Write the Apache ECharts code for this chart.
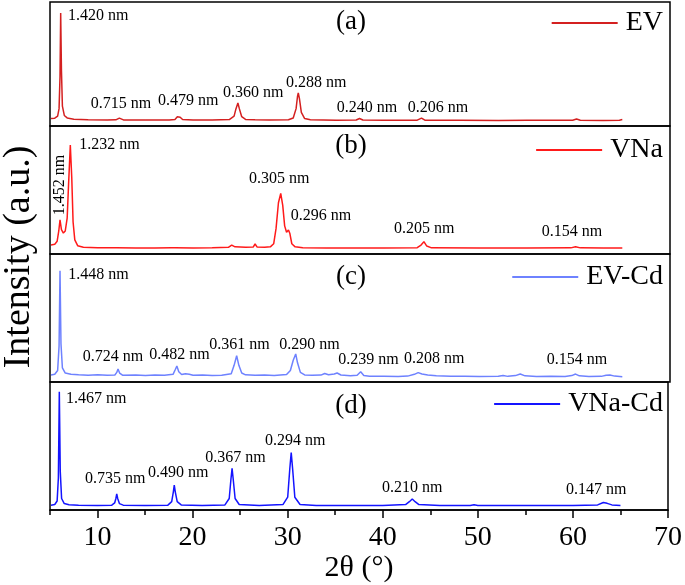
<!DOCTYPE html>
<html>
<head>
<meta charset="utf-8">
<script src="https://cdn.jsdelivr.net/npm/echarts@6/dist/echarts.min.js"></script>
<style>html,body{margin:0;padding:0;background:#fff}#c{width:685px;height:585px}</style>
</head>
<body>
<div id="c"></div>
<script>
// ---- data (2θ in degrees, intensity in panel units 0-100) ----
const seriesNames = ['EV', 'VNa', 'EV-Cd', 'VNa-Cd'];
const panelTags = ['(a)', '(b)', '(c)', '(d)'];
const majorTicks = [10, 20, 30, 40, 50, 60, 70];
const minorTicks = [5, 15, 25, 35, 45, 55, 65];

const evData = [
[5.1,6.0],[5.5,6.3],[5.8,8],[5.95,14],[6.05,40],[6.12,91.1],[6.2,45],[6.3,16],[6.5,8.5],[6.8,6.5],[7.5,5.5],[9,5.0],[11,4.9],[11.9,5.0],[12.1,5.6],[12.27,6.4],[12.45,5.4],[12.7,4.9],[15,4.8],[17.5,4.8],[18.1,5.3],[18.35,7.5],[18.5,8.8],[18.65,7.0],[18.9,5.2],[20,4.8],[22,4.8],[23.8,5.2],[24.3,8],[24.5,14],[24.7,18.5],[24.85,14],[25.1,7.5],[25.5,5.3],[26.5,5.0],[28,4.8],[30,5.0],[30.5,6.5],[30.8,14],[30.95,24],[31.03,26.6],[31.15,22],[31.35,11],[31.7,6],[32.3,5.0],[35,4.7],[37.1,4.8],[37.45,6.0],[37.8,4.8],[40,4.6],[43.5,4.7],[43.95,6.4],[44.3,4.7],[48,4.6],[52,4.5],[55,4.6],[59.8,4.6],[60.2,5.6],[60.6,4.6],[63,4.5],[64.7,4.6],[65,5.2]
];
const vnaData = [
[5.1,7.0],[5.5,7.6],[5.75,10],[5.92,18],[6.05,26.6],[6.2,19],[6.4,16.4],[6.6,18],[6.8,28],[6.95,55],[7.13,85.2],[7.28,60],[7.42,25],[7.6,11],[7.9,6.5],[8.5,5.2],[10,4.8],[12,4.9],[14,4.7],[16,4.7],[17.7,4.8],[17.9,5.6],[18.1,4.8],[20,4.7],[22,4.9],[23.7,5.2],[24.05,7.0],[24.4,5.6],[25.5,5.2],[26.3,5.4],[26.5,7.8],[26.7,5.5],[27.5,5.3],[28.1,5.6],[28.45,8],[28.7,20],[28.95,40],[29.19,47.4],[29.4,38],[29.6,22],[29.8,17],[30.0,18.8],[30.15,16],[30.35,8],[30.7,5.6],[31.5,4.9],[34,4.7],[37,4.7],[40,4.7],[43.5,4.9],[43.9,7],[44.2,9.6],[44.5,6.2],[45,4.8],[50,4.7],[55,4.7],[59.6,4.8],[60.1,5.7],[60.6,4.8],[63,4.7],[65,4.7]
];
const evcdData = [
[5.1,5.5],[5.5,6],[5.8,9],[5.95,28],[6.05,86.9],[6.15,30],[6.3,11],[6.6,7],[7.2,6],[8,5.6],[9,5.3],[10,5.6],[11,5.2],[11.8,5.5],[12.0,7.5],[12.13,10.2],[12.3,7],[12.6,5.3],[14,5.4],[15,5.1],[16,5.4],[17,5.2],[17.9,6],[18.15,10],[18.3,12.5],[18.5,8],[18.8,5.8],[19.2,6.5],[19.4,7.8],[19.6,6],[20,5.2],[21,5.4],[22,5.1],[23,5.3],[24.0,6.5],[24.3,13],[24.57,20.5],[24.8,13],[25.1,7],[25.5,5.6],[26.5,5.2],[27.5,5.4],[28.5,5.1],[29.8,5.8],[30.2,9],[30.5,17],[30.76,21.9],[30.95,15],[31.25,7.5],[31.7,5.5],[32.5,5.2],[33.4,5.4],[33.8,6.6],[34.2,5.6],[34.8,6.2],[35.1,7.0],[35.5,5.5],[36.5,4.8],[37.2,5.2],[37.57,8.0],[37.9,5],[38.5,4.4],[40,4.5],[41.5,4.3],[42.5,4.6],[43.2,6],[43.6,7.3],[44.0,6.2],[44.6,5.5],[45.5,4.8],[47,4.4],[48.5,4.5],[50,4.3],[52.0,4.5],[52.5,5.1],[53,4.4],[53.8,5],[54.3,6.2],[54.8,4.8],[56,4.3],[57.5,4.5],[59,4.3],[59.7,5],[60.1,6.2],[60.5,4.8],[61.5,4.3],[62.8,4.4],[63.3,5.2],[63.7,5.5],[64.2,4.6],[65,4.1]
];
const vnacdData = [
[5.1,3.8],[5.5,4.3],[5.75,7],[5.88,25],[5.98,92.4],[6.08,30],[6.22,9],[6.5,5],[7,4.1],[8,3.7],[10,3.5],[11.5,3.8],[11.8,5.5],[11.93,9],[12.02,12.5],[12.12,9],[12.3,5],[12.7,3.8],[15,3.5],[17.4,3.8],[17.8,6.5],[17.97,14],[18.07,19.5],[18.18,14],[18.38,6.5],[18.8,4],[21,3.5],[23.4,4],[23.85,9],[24.03,24],[24.15,32.6],[24.27,24],[24.47,9],[24.9,4.3],[27,3.5],[29.5,4.2],[30.0,10],[30.22,32],[30.37,44.8],[30.52,32],[30.75,10],[31.3,4.3],[33,3.6],[37,3.5],[40,3.5],[42.4,4.2],[42.8,6.5],[43.1,8.6],[43.4,6.5],[43.8,4.2],[46,3.5],[49.2,3.6],[49.6,4.1],[50,3.6],[55,3.5],[60,3.5],[62.6,4],[63.2,5.9],[63.6,5.2],[64.1,4],[65,3.6]
];

// peak annotations: [2θ, intensity, text]
const evLabels = [[6.89,88.7,'1.420 nm'],[9.27,17.7,'0.715 nm'],[16.32,20.4,'0.479 nm'],[23.14,26.4,'0.360 nm'],[29.74,34.9,'0.288 nm'],[35.06,14.3,'0.240 nm'],[42.50,14.3,'0.206 nm']];
const vnaLabels = [[8.07,85.1,'1.232 nm'],[25.86,59.1,'0.305 nm'],[30.24,29.7,'0.296 nm'],[41.07,19.3,'0.205 nm'],[56.55,17.4,'0.154 nm']];
const vnaVerticalLabels = [[6.05,53.9,'1.452 nm']];
const evcdLabels = [[6.92,83.6,'1.448 nm'],[8.43,19.3,'0.724 nm'],[15.41,21.6,'0.482 nm'],[21.70,28.9,'0.361 nm'],[29.04,28.9,'0.290 nm'],[35.23,17.7,'0.239 nm'],[42.11,18.5,'0.208 nm'],[57.07,17.2,'0.154 nm']];
const vnacdLabels = [[6.68,87.2,'1.467 nm'],[8.67,24.0,'0.735 nm'],[15.31,29.1,'0.490 nm'],[21.32,40.4,'0.367 nm'],[27.61,53.9,'0.294 nm'],[39.91,17.7,'0.210 nm'],[59.28,15.6,'0.147 nm']];

// ---- layout / style ----
const FONT = '"Liberation Serif", "Times New Roman", serif';
const colors = ['#d42020', '#ff1a1a', '#6e82ff', '#1414ff'];
const gridTops = [2, 126, 254, 382];
const gridHeights = [124, 128, 128, 128];
const legendCenters = [23, 150, 277, 404];
const tagCenters = [22, 146, 277, 406];
const allData = [evData, vnaData, evcdData, vnacdData];
const allLabels = [evLabels, vnaLabels, evcdLabels, vnacdLabels];

const grid = gridTops.map((t, i) => ({
  left: 50, right: 15, top: t, height: gridHeights[i],
  show: true, borderColor: '#000', borderWidth: 1.5, backgroundColor: 'transparent'
}));

const xAxis = gridTops.map((t, i) => {
  const last = i === 3;
  return {
    type: 'value', gridIndex: i, min: 5, max: 70,
    axisLine: { show: last, lineStyle: { color: '#000', width: 1.5 } },
    axisTick: { show: last, customValues: majorTicks, length: 8, lineStyle: { color: '#000', width: 1.5 } },
    axisLabel: { show: last, customValues: majorTicks, margin: 14, fontSize: 28, fontFamily: FONT, color: '#000' },
    splitLine: { show: false },
    name: last ? '2θ (°)' : '', nameLocation: 'middle', nameGap: 43,
    nameTextStyle: { fontSize: 30, fontFamily: FONT, color: '#000' }
  };
});
xAxis.push({
  type: 'value', gridIndex: 3, min: 5, max: 70, position: 'bottom',
  axisLine: { show: false },
  axisTick: { show: true, customValues: minorTicks, length: 5, lineStyle: { color: '#000', width: 1.5 } },
  axisLabel: { show: false }, splitLine: { show: false }
});

const yAxis = gridTops.map((t, i) => ({
  type: 'value', gridIndex: i, min: 0, max: 100, show: false
}));

const series = [];
allData.forEach((d, i) => {
  series.push({
    name: seriesNames[i], type: 'line', xAxisIndex: i, yAxisIndex: i,
    data: d, showSymbol: false, symbol: 'none', color: colors[i],
    lineStyle: { width: 1.5, color: colors[i] }, silent: true, z: 3
  });
  const lab = allLabels[i].map(l => ({ name: l[2], value: [l[0], l[1]] }));
  if (i === 1) {
    vnaVerticalLabels.forEach(l => lab.push({
      name: l[2], value: [l[0], l[1]],
      label: { rotate: 90, position: 'inside', align: 'center', verticalAlign: 'middle' }
    }));
  }
  series.push({
    type: 'scatter', xAxisIndex: i, yAxisIndex: i, symbolSize: 0, silent: true,
    data: lab, z: 4, itemStyle: { opacity: 1 },
    label: {
      show: true, position: 'right', distance: 0, formatter: '{b}',
      fontSize: 16, fontFamily: FONT, color: '#000', opacity: 1
    }
  });
});

const legend = seriesNames.map((n, i) => ({
  data: [n], right: 22, top: legendCenters[i] - 14, padding: 0,
  icon: 'rect', itemWidth: 66, itemHeight: 2,
  textStyle: { fontSize: 28, lineHeight: 28, fontFamily: FONT, color: '#000', padding: [0, 0, 0, 3] },
  selectedMode: false
}));

const graphic = panelTags.map((tag, i) => ({
  type: 'text', x: 351, y: tagCenters[i], silent: true,
  style: { text: tag, fontSize: 27, fontFamily: FONT, fill: '#000', align: 'center', verticalAlign: 'middle' }
}));
graphic.push({
  type: 'text', x: 19, y: 257, rotation: Math.PI / 2, silent: true,
  style: { text: 'Intensity (a.u.)', fontSize: 38, fontFamily: FONT, fill: '#000', align: 'center', verticalAlign: 'middle' }
});

const chart = echarts.init(document.getElementById('c'), null, { renderer: 'canvas' });
chart.setOption({
  animation: false, backgroundColor: '#fff',
  grid, xAxis, yAxis, series, legend, graphic
});
</script>
</body>
</html>
